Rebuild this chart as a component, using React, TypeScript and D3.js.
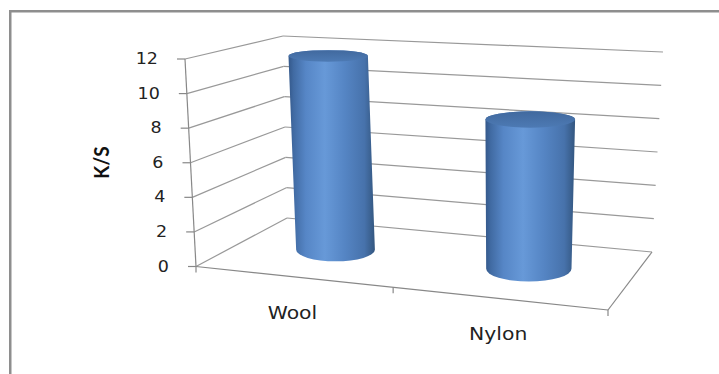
import React from "react";
import * as d3 from "d3";

// Chart data
const categories = ["Wool", "Nylon"];
const values = [11.7, 8.6];
const yTicks = [0, 2, 4, 6, 8, 10, 12];
const yTitle = "K/S";

const W = 719;
const H = 374;

type Pt = [number, number];

// Screen corners of the 3D plot box, ordered front-left, front-right, back-right, back-left.
const floorQuad: Pt[] = [[196, 266.5], [608, 310], [652, 252], [287, 218]];
const ceilQuad: Pt[] = [[185, 59], [618, 82], [663, 52], [283, 36]];

// Column radius in category units and in depth units
const radiusU = 0.106;
const radiusW = 0.23;

const yScale = d3.scaleLinear().domain([0, 12]).range([0, 1]);
const xScale = d3.scalePoint<string>().domain(categories).range([0, 1]).padding(0.5);

function quadAt(t: number): Pt[] {
  return floorQuad.map((p, i) => [
    p[0] + (ceilQuad[i][0] - p[0]) * t,
    p[1] + (ceilQuad[i][1] - p[1]) * t,
  ]) as Pt[];
}

// Perspective mapping of the unit square (u along the front, w toward the back) onto a quad
function project(q: Pt[], u: number, w: number): Pt {
  const [x0, y0] = q[0];
  const [x1, y1] = q[1];
  const [x2, y2] = q[2];
  const [x3, y3] = q[3];
  const dx1 = x1 - x2, dx2 = x3 - x2, dx3 = x0 - x1 + x2 - x3;
  const dy1 = y1 - y2, dy2 = y3 - y2, dy3 = y0 - y1 + y2 - y3;
  const den = dx1 * dy2 - dx2 * dy1;
  const g = (dx3 * dy2 - dx2 * dy3) / den;
  const h = (dx1 * dy3 - dx3 * dy1) / den;
  const a = x1 - x0 + g * x1, b = x3 - x0 + h * x3, c = x0;
  const d = y1 - y0 + g * y1, e = y3 - y0 + h * y3, f = y0;
  const z = g * u + h * w + 1;
  return [(a * u + b * w + c) / z, (d * u + e * w + f) / z];
}

const gridColor = "#999999";
const axisColor = "#888888";
const textFont = "'DejaVu Sans', Verdana, sans-serif";

export default function App() {
  const lines: JSX.Element[] = [];

  yTicks.forEach((v) => {
    const q = quadAt(yScale(v));
    // left side wall
    lines.push(
      <line key={`lw${v}`} x1={q[0][0]} y1={q[0][1]} x2={q[3][0]} y2={q[3][1]} stroke={gridColor} strokeWidth={1.2} />
    );
    // back wall
    lines.push(
      <line key={`bw${v}`} x1={q[3][0]} y1={q[3][1]} x2={q[2][0]} y2={q[2][1]} stroke={gridColor} strokeWidth={1.2} />
    );
  });

  const fl = floorQuad;
  const axisTop = quadAt(1)[0];

  const cylinders = categories.map((cat, i) => {
    const u = xScale(cat) as number;
    const qb = floorQuad;
    const qt = quadAt(yScale(values[i]));
    const cB = project(qb, u, 0.5);
    const cT = project(qt, u, 0.5);
    const hwB = (project(qb, u + radiusU, 0.5)[0] - project(qb, u - radiusU, 0.5)[0]) / 2;
    const hwT = (project(qt, u + radiusU, 0.5)[0] - project(qt, u - radiusU, 0.5)[0]) / 2;
    const ryB = (project(qb, u, 0.5 - radiusW)[1] - project(qb, u, 0.5 + radiusW)[1]) / 2;
    const ryT = (project(qt, u, 0.5 - radiusW)[1] - project(qt, u, 0.5 + radiusW)[1]) / 2;
    const path = [
      `M${cT[0] - hwT},${cT[1]}`,
      `L${cB[0] - hwB},${cB[1]}`,
      `A${hwB},${ryB} 0 0 0 ${cB[0] + hwB},${cB[1]}`,
      `L${cT[0] + hwT},${cT[1]}`,
      `A${hwT},${ryT} 0 0 0 ${cT[0] - hwT},${cT[1]}`,
      "Z",
    ].join(" ");
    return (
      <g key={cat}>
        <path d={path} fill="url(#cylSide)" />
        <ellipse cx={cT[0]} cy={cT[1]} rx={hwT} ry={ryT} fill="url(#cylTop)" />
      </g>
    );
  });

  const catTicks = [0, 0.5, 1].map((u) => project(floorQuad, u, 0));

  return (
    <svg
      width={W}
      height={H}
      viewBox={`0 0 ${W} ${H}`}
      style={{ position: "absolute", left: 0, top: 0, background: "#fff" }}
    >
      <defs>
        <linearGradient id="cylSide" x1="0" y1="0" x2="1" y2="0">
          <stop offset="0" stopColor="#34588a" />
          <stop offset="0.06" stopColor="#416ba3" />
          <stop offset="0.2" stopColor="#5686c6" />
          <stop offset="0.42" stopColor="#6799d8" />
          <stop offset="0.65" stopColor="#5585c4" />
          <stop offset="0.88" stopColor="#4772ab" />
          <stop offset="1" stopColor="#33567f" />
        </linearGradient>
        <linearGradient id="cylTop" x1="0" y1="0" x2="0" y2="1">
          <stop offset="0" stopColor="#41699e" />
          <stop offset="1" stopColor="#4d7ab4" />
        </linearGradient>
      </defs>

      <rect x={10.25} y={11.25} width={W + 10} height={H + 10} fill="#fff" stroke="#8e8e8e" strokeWidth={2.5} />

      {lines}

      {/* floor front and right edges */}
      <line x1={fl[0][0]} y1={fl[0][1]} x2={fl[1][0]} y2={fl[1][1]} stroke={axisColor} strokeWidth={1.2} />
      <line x1={fl[1][0]} y1={fl[1][1]} x2={fl[2][0]} y2={fl[2][1]} stroke={axisColor} strokeWidth={1.2} />

      {/* value axis */}
      <line x1={fl[0][0]} y1={fl[0][1]} x2={axisTop[0]} y2={axisTop[1]} stroke={axisColor} strokeWidth={1.2} />
      {yTicks.map((v) => {
        const p = quadAt(yScale(v))[0];
        return (
          <g key={`t${v}`}>
            <line x1={p[0] - 8} y1={p[1]} x2={p[0]} y2={p[1]} stroke={axisColor} strokeWidth={1.2} />
            <text
              transform={`translate(${p[0] - 27},${p[1]}) scale(1.13,1)`}
              textAnchor="end"
              dominantBaseline="central"
              fontFamily={textFont}
              fontSize={15.5}
              fill="#222"
            >
              {v}
            </text>
          </g>
        );
      })}

      {/* category axis ticks */}
      {catTicks.map((p, i) => (
        <line key={`c${i}`} x1={p[0]} y1={p[1]} x2={p[0]} y2={p[1] + 6} stroke={axisColor} strokeWidth={1.2} />
      ))}

      {cylinders}

      {/* category labels */}
      {categories.map((cat) => {
        const p = project(floorQuad, xScale(cat) as number, 0);
        return (
          <text
            key={`l${cat}`}
            transform={`translate(${p[0]},${p[1] + 42}) scale(1.13,1)`}
            textAnchor="middle"
            fontFamily={textFont}
            fontSize={18}
            fill="#222"
          >
            {cat}
          </text>
        );
      })}

      {/* axis title */}
      <text
        transform="translate(101,162.5) scale(1.13,1) rotate(-90)"
        textAnchor="middle"
        dominantBaseline="central"
        fontFamily="Lato, 'DejaVu Sans', sans-serif"
        fontWeight={700}
        fontSize={19}
        fill="#111"
      >
        {yTitle}
      </text>
    </svg>
  );
}
